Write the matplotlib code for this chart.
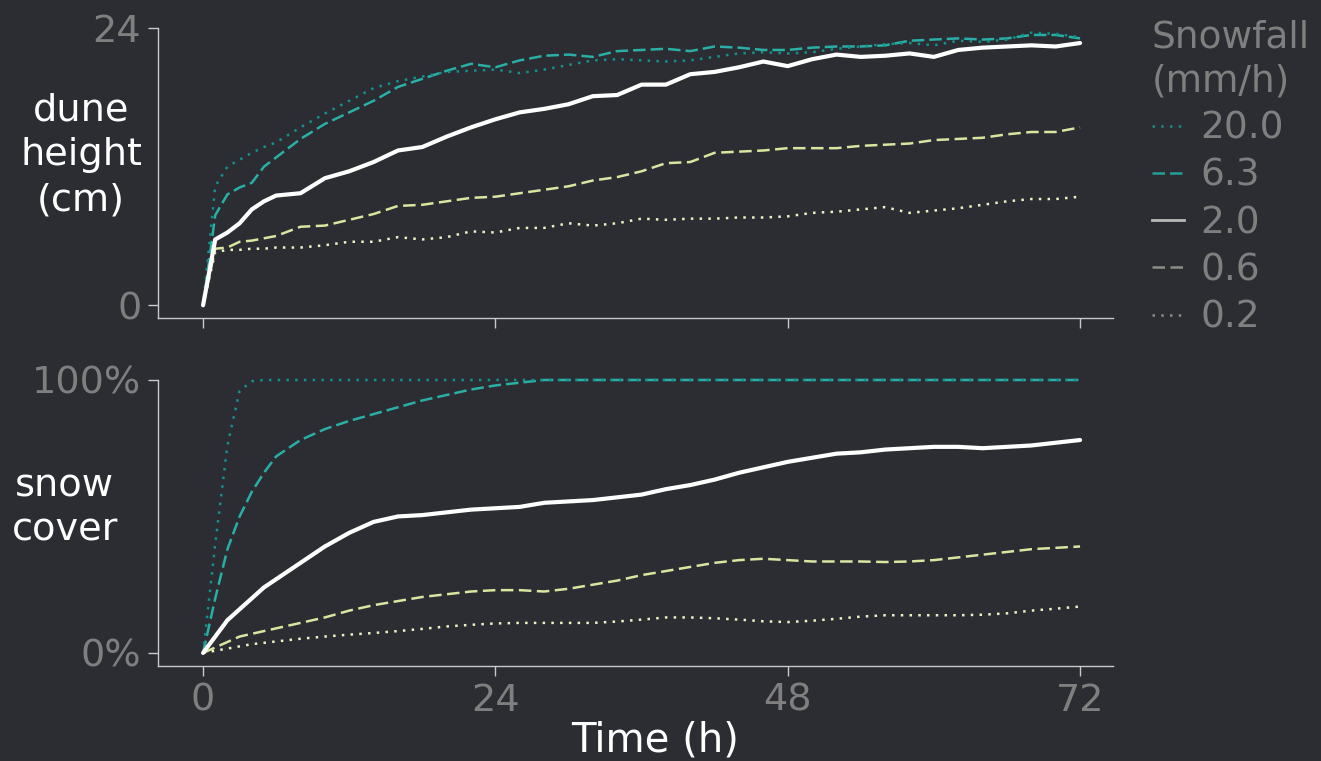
import matplotlib
matplotlib.use("Agg")
import matplotlib.pyplot as plt
from matplotlib.lines import Line2D
from matplotlib.ticker import FixedLocator, FuncFormatter

# temps (h)
time_h = [0, 1, 2, 3, 4, 5, 6, 8, 10, 12, 14, 16, 18, 20, 22, 24, 26, 28, 30, 32,
          34, 36, 38, 40, 42, 44, 46, 48, 50, 52, 54, 56, 58, 60, 62, 64, 66, 68, 70, 72]

snowfall_labels = ["20.0", "6.3", "2.0", "0.6", "0.2"]

# hauteur des dunes (cm)
dune_20 = [0, 10.3, 12.0, 12.6, 13.2, 13.7, 14.1, 15.4, 16.6, 17.7, 18.8, 19.4, 19.8, 20.2,
           20.3, 20.4, 20.1, 20.4, 20.8, 21.2, 21.3, 21.2, 21.1, 21.2, 21.5, 21.8, 21.9, 21.8,
           21.9, 22.2, 22.4, 22.6, 22.7, 22.5, 22.9, 22.8, 23.0, 23.6, 23.5, 23.2]
dune_6 = [0, 7.8, 9.6, 10.2, 10.6, 12.0, 12.8, 14.4, 15.7, 16.7, 17.7, 18.9, 19.6, 20.3,
          20.9, 20.6, 21.2, 21.6, 21.7, 21.5, 22.0, 22.1, 22.2, 22.0, 22.4, 22.3, 22.1, 22.1,
          22.3, 22.4, 22.4, 22.5, 22.9, 23.0, 23.1, 23.0, 23.1, 23.4, 23.4, 23.1]
dune_2 = [0, 5.7, 6.3, 7.1, 8.3, 9.0, 9.5, 9.7, 11.0, 11.6, 12.4, 13.4, 13.7, 14.6,
          15.4, 16.1, 16.7, 17.0, 17.4, 18.1, 18.2, 19.1, 19.1, 20.0, 20.2, 20.6, 21.1, 20.7,
          21.3, 21.7, 21.5, 21.6, 21.8, 21.5, 22.1, 22.3, 22.4, 22.5, 22.4, 22.7]
dune_06 = [0, 4.9, 5.0, 5.5, 5.6, 5.8, 6.0, 6.8, 6.9, 7.4, 7.9, 8.6, 8.7, 9.0,
           9.3, 9.4, 9.7, 10.0, 10.3, 10.8, 11.1, 11.6, 12.3, 12.4, 13.2, 13.3, 13.4, 13.6,
           13.6, 13.6, 13.8, 13.9, 14.0, 14.3, 14.4, 14.5, 14.8, 15.0, 15.0, 15.4]
dune_02 = [0, 4.6, 4.8, 4.8, 4.9, 4.9, 5.0, 5.0, 5.2, 5.5, 5.5, 5.9, 5.7, 5.9,
           6.4, 6.3, 6.7, 6.7, 7.1, 6.9, 7.1, 7.5, 7.4, 7.5, 7.5, 7.6, 7.6, 7.7,
           8.0, 8.1, 8.3, 8.5, 8.0, 8.2, 8.4, 8.7, 9.0, 9.2, 9.2, 9.4]

# couverture neigeuse (fraction)
cover_20 = [0, 0.40, 0.76, 0.96, 0.995] + [1.0] * 35
cover_6 = [0, 0.20, 0.38, 0.50, 0.59, 0.66, 0.72, 0.78, 0.82, 0.85, 0.875, 0.90, 0.925,
           0.945, 0.965, 0.98, 0.99] + [1.0] * 23
cover_2 = [0, 0.06, 0.12, 0.16, 0.20, 0.24, 0.27, 0.33, 0.39, 0.44, 0.48, 0.50, 0.505,
           0.515, 0.525, 0.53, 0.535, 0.55, 0.555, 0.56, 0.57, 0.58, 0.60, 0.615, 0.635,
           0.66, 0.68, 0.70, 0.715, 0.73, 0.735, 0.745, 0.75, 0.755, 0.755, 0.75, 0.755,
           0.76, 0.77, 0.78]
cover_06 = [0, 0.02, 0.04, 0.06, 0.07, 0.08, 0.09, 0.11, 0.13, 0.155, 0.175, 0.19, 0.205,
            0.215, 0.225, 0.23, 0.23, 0.225, 0.235, 0.25, 0.265, 0.285, 0.30, 0.315, 0.33,
            0.34, 0.345, 0.34, 0.335, 0.335, 0.335, 0.333, 0.335, 0.34, 0.35, 0.36, 0.37,
            0.38, 0.385, 0.39]
cover_02 = [0, 0.008, 0.016, 0.024, 0.032, 0.037, 0.042, 0.052, 0.06, 0.067, 0.073, 0.08,
            0.088, 0.097, 0.103, 0.108, 0.11, 0.11, 0.11, 0.11, 0.115, 0.122, 0.13, 0.13,
            0.127, 0.122, 0.116, 0.113, 0.118, 0.125, 0.133, 0.138, 0.138, 0.138, 0.138,
            0.14, 0.145, 0.155, 0.162, 0.17]

bg = "#2b2d33"
grey = "#7f7f7f"
spine_col = "#c9c9c9"

styles = [
    dict(color="#14918c", lw=1.8, ls=(0, (1, 2.5))),
    dict(color="#29afa5", lw=1.8, ls=(0, (5, 2))),
    dict(color="#ffffff", lw=3.0, ls="-"),
    dict(color="#d8e6a0", lw=1.8, ls=(0, (5, 2.2))),
    dict(color="#eef3c4", lw=1.8, ls=(0, (1, 2.5))),
]

plt.rcParams["font.family"] = ["DejaVu Sans"]

fig = plt.figure(figsize=(13.21, 7.61), dpi=100, facecolor=bg)
ax1 = fig.add_axes([0.1196, 0.5821, 0.7229, 0.3811])
ax2 = fig.add_axes([0.1196, 0.1248, 0.7229, 0.3759])

dune = [dune_20, dune_6, dune_2, dune_06, dune_02]
cover = [cover_20, cover_6, cover_2, cover_06, cover_02]

# on trace les plus faibles d'abord pour que le blanc reste au-dessus
order = [4, 3, 1, 0, 2]
for i in order:
    ax1.plot(time_h, dune[i], solid_capstyle="round", solid_joinstyle="round", **styles[i])
    ax2.plot(time_h, cover[i], clip_on=False, solid_capstyle="round",
             solid_joinstyle="round", **styles[i])

for ax in (ax1, ax2):
    ax.set_facecolor(bg)
    ax.set_xlim(-3.7, 74.7)
    for s in ("top", "right"):
        ax.spines[s].set_visible(False)
    for s in ("left", "bottom"):
        ax.spines[s].set_color(spine_col)
        ax.spines[s].set_linewidth(1.0)
    ax.xaxis.set_major_locator(FixedLocator([0, 24, 48, 72]))
    ax.tick_params(colors=spine_col, labelcolor=grey, labelsize=27.5, length=7, width=1.0, pad=5)

ax1.set_ylim(-1.1, 24)
ax1.set_yticks([0, 24])
ax1.tick_params(axis="x", labelbottom=False)

ax2.set_ylim(-0.048, 1.0)
ax2.set_yticks([0, 1])
ax2.yaxis.set_major_formatter(FuncFormatter(lambda v, p: f"{v:.0%}"))
ax2.set_xlabel("Time (h)", color="white", fontsize=29)
ax2.xaxis.set_label_coords(0.52, -0.19)

fig.text(0.0615, 0.796, "dune\nheight\n(cm)", color="white", fontsize=27.5,
         ha="center", va="center", linespacing=1.32)
fig.text(0.049, 0.332, "snow\ncover", color="white", fontsize=27.5,
         ha="center", va="center", linespacing=1.3)

handle_cols = ["#1b8a86", "#22a098", "#b9b9b9", "#8c8c84", "#8c8c84"]
handles = [Line2D([], [], color=handle_cols[i], lw=2.0 if i == 2 else 1.8, ls=styles[i]["ls"])
           for i in range(5)]
leg = fig.legend(handles, snowfall_labels, title="Snowfall\n(mm/h)", loc="upper left",
                 bbox_to_anchor=(0.872, 0.975), frameon=False, fontsize=27,
                 title_fontsize=27, alignment="left", handlelength=0.85,
                 handletextpad=0.45, labelspacing=0.3, borderpad=0, borderaxespad=0)
leg.get_title().set_color(grey)
leg.get_title().set_linespacing(1.3)
for t in leg.get_texts():
    t.set_color(grey)

fig.savefig("out.png", dpi=100, facecolor=bg)
